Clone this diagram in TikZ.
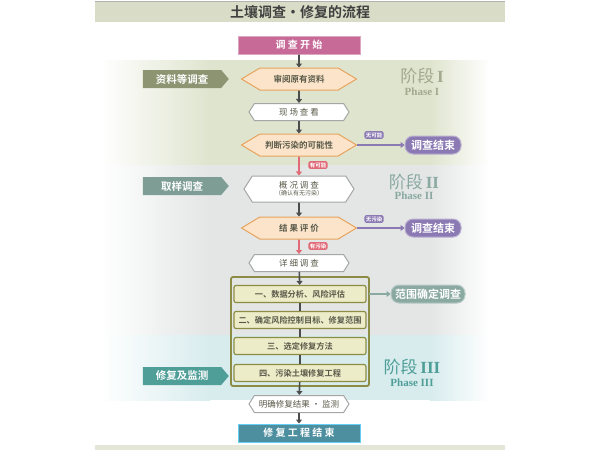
\documentclass[tikz,border=0pt]{standalone}
\usepackage{fontspec}
\setmainfont{Noto Sans CJK SC}[BoldFont={* Bold}]
\newfontfamily\phfont{Liberation Serif}
\usetikzlibrary{shapes.symbols,arrows.meta}
\definecolor{titlebg}{HTML}{D9DCC6}
\definecolor{ph1}{HTML}{DFE4CE}
\definecolor{ph2}{HTML}{E3E6E5}
\definecolor{ph3}{HTML}{D8ECEE}
\definecolor{startc}{HTML}{C76A98}
\definecolor{endc}{HTML}{4D8E9F}
\definecolor{orfill}{HTML}{FBE4C9}
\definecolor{ordraw}{HTML}{E7A35E}
\definecolor{purp}{HTML}{8B79B3}
\definecolor{olive}{HTML}{8D8C45}
\definecolor{olfill}{HTML}{EDECC9}
\definecolor{tealg}{HTML}{8AA9A1}
\definecolor{lab1}{HTML}{8C9472}
\definecolor{lab2}{HTML}{7E9E95}
\definecolor{lab3}{HTML}{4F9E98}
\definecolor{redar}{HTML}{E06A78}
\definecolor{txt}{HTML}{5A5A4A}
\tikzset{
 ttl/.style={font=\fontsize{10}{10}\selectfont\bfseries,text=white,minimum height=18pt,inner sep=0pt},
 diam/.style={signal,signal to=east and west,signal pointer angle=62,fill=orfill,draw=ordraw,line width=1pt,minimum height=22pt,minimum width=115pt,inner sep=0pt,font=\fontsize{8.5}{9}\selectfont\bfseries,text=txt},
 hexa/.style={signal,signal to=east and west,signal pointer angle=115,fill=white,draw=gray!70,line width=1pt,minimum height=17pt,minimum width=100pt,inner sep=0pt,font=\fontsize{8.5}{9}\selectfont,text=txt},
 endbox/.style={rounded corners=8pt,fill=purp,draw=purp!60,line width=1pt,minimum width=56pt,minimum height=18pt,inner sep=0pt,text=white,font=\fontsize{11}{11}\selectfont\bfseries},
 tag/.style={rounded corners=2pt,inner sep=1.3pt,font=\fontsize{5.5}{5.5}\selectfont\bfseries,text=white},
 olbox/.style={rounded corners=2pt,fill=olfill,draw=olive,line width=1.2pt,minimum width=132pt,minimum height=17pt,inner sep=0pt,font=\fontsize{8.2}{8}\selectfont\bfseries,text=txt},
 lab/.style={signal,signal to=east,signal pointer angle=100,minimum width=86pt,minimum height=18pt,inner sep=0pt,text=white,font=\fontsize{10.5}{10}\selectfont\bfseries},
 arr/.style={-{Triangle[length=4pt,width=6pt]},line width=1.6pt,draw=black!70},
 phz/.style={font=\fontsize{17}{17}\selectfont},
 phe/.style={font=\phfont\fontsize{11}{11}\selectfont\bfseries},
}
\begin{document}
\begin{tikzpicture}[x=1pt,y=-1pt]
\useasboundingbox (0,0) rectangle (600,450);
% backgrounds
\fill[titlebg] (95,1) rectangle (505,22);
\draw[gray!60] (95,1) -- (505,1);
\fill[titlebg!70] (95,445) rectangle (505,450);
\foreach \ya/\yb/\c in {60/165/ph1,165/335/ph2,335/400/ph3}{
 \shade[left color=white,right color=\c] (100,\ya) rectangle (210,\yb);
 \fill[\c] (210,\ya) rectangle (430,\yb);
 \shade[left color=\c,right color=white] (430,\ya) rectangle (490,\yb);
}
\node[font=\fontsize{14}{14}\selectfont\bfseries,text=black!75] (title) at (300,12) {土壤调查·修复的流程};
% phase labels
\node[phz,text=lab1!80] (p1a) at (422,76) {阶段\,{\phfont\bfseries I}};
\node[phe,text=lab1!80] (p1b) at (422,92) {Phase I};
\node[phz,text=tealg] (p2a) at (414,182) {阶段\,{\phfont\bfseries II}};
\node[phe,text=tealg] (p2b) at (414,196) {Phase II};
\node[phz,text=lab3] (p3a) at (412,367) {阶段\,{\phfont\bfseries III}};
\node[phe,text=lab3] (p3b) at (412,383) {Phase III};
% left labels
\node[lab,fill=lab1] (l1) at (182,79) {资料等调查};
\node[lab,fill=lab2] (l2) at (182,186) {取样调查};
\node[lab,fill=lab3] (l3) at (182,376) {修复及监测};
% main flow
\node[ttl,fill=startc,draw=startc!60,line width=1pt,minimum width=122pt] (start) at (299,45) {调 查 开 始};
\node[diam] (d1) at (299,79) {审阅原有资料};
\node[hexa] (h1) at (299,112) {现 场 查 看};
\node[diam] (d2) at (299,145) {判断污染的可能性};
\node[hexa,minimum height=26pt,minimum width=110pt,align=center] (h2) at (299,189) {概 况 调 查\\[-2pt]{\fontsize{6}{6}\selectfont （确认有无污染）}};
\node[diam] (d3) at (299,228) {结 果 评 价};
\node[hexa] (h3) at (299,263) {详 细 调 查};
\draw[olive,line width=1.8pt,rounded corners=2pt] (231,277) rectangle (369,386);
\node[olbox] (o1) at (300,294) {一、数据分析、风险评估};
\node[olbox] (o2) at (300,320) {二、确定风险控制目标、修复范围};
\node[olbox] (o3) at (300,346) {三、选定修复方法};
\node[olbox] (o4) at (300,373) {四、污染土壤修复工程};
\node[hexa] (h4) at (299,404) {明确修复结果 · 监测};
\node[ttl,fill=endc,draw=cyan!60,line width=1pt,minimum width=122pt] (fin) at (299,433) {修 复 工 程 结 束};
% side ends
\node[endbox] (e1) at (433,145) {调查结束};
\node[endbox] (e2) at (433,228) {调查结束};
\node[endbox,fill=tealg,draw=tealg!60,minimum width=74pt] (e3) at (428,294) {范围确定调查};
% arrows
\draw[arr] (start) -- (d1);
\draw[arr] (d1) -- (h1);
\draw[arr] (h1) -- (d2);
\draw[arr,draw=redar] (d2) -- (h2);
\draw[arr] (h2) -- (d3);
\draw[arr,draw=redar] (d3) -- (h3);
\draw[arr] (h3) -- (o1);
\draw[line width=1.6pt,black!70] (o1) -- (o2) (o2) -- (o3) (o3) -- (o4);
\draw[arr] (o4) -- (h4);
\draw[arr] (h4) -- (fin);
\draw[arr,draw=purp] (d2.east) -- (e1);
\draw[arr,draw=purp] (d3.east) -- (e2);
\draw[arr,draw=tealg,line width=2pt] (369,294) -- (e3);
% tags
\node[tag,fill=purp] (t1) at (374,135) {无可能};
\node[tag,fill=purp] (t2) at (374,219) {无污染};
\node[tag,fill=redar] (t3) at (318,165) {有可能};
\node[tag,fill=redar] (t4) at (318,246) {有污染};
\end{tikzpicture}
\end{document}
